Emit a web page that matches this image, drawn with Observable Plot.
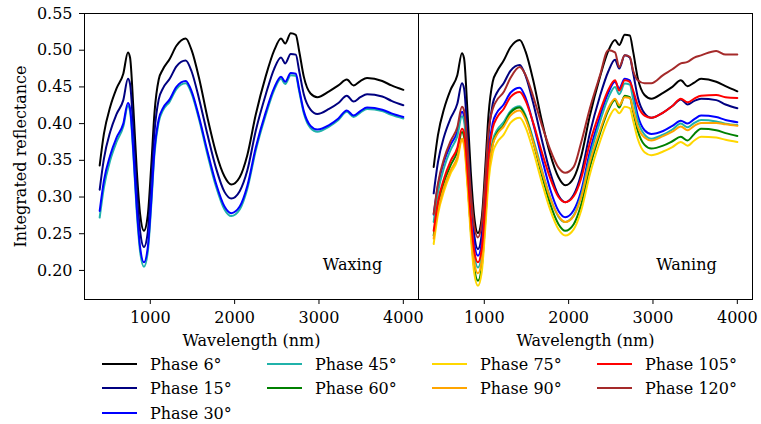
<!DOCTYPE html>
<html><head><meta charset="utf-8">
<script src="https://cdn.jsdelivr.net/npm/d3@7"></script>
<script src="https://cdn.jsdelivr.net/npm/@observablehq/plot@0.6"></script>
<style>
body{margin:0;background:#fff;}
#wrap{position:relative;width:761px;height:424px;font-family:"DejaVu Serif","Liberation Serif",serif;overflow:hidden;}
#left{position:absolute;left:0;top:0;}
#right{position:absolute;left:418px;top:0;}
.leg{position:absolute;font-size:16px;line-height:16px;white-space:nowrap;color:#000;}
.sw{position:absolute;height:2px;width:35px;}
</style></head><body>
<div id="wrap"><div id="left"></div><div id="right"></div><div id="legend"></div></div>
<script>
// Wavelength grid (nm)
const wavelengths = [400,450,525,600,680, 735,760,800,840,880, 925,970,1010,1050,1100, 1150,1230,1310,1420,1490, 1580,1680,1780,1880,1960, 2060,2150,2250,2370,2470, 2550,2600,2665,2725,2765, 2820,2900,2980,3120,3230, 3330,3410,3490,3570,3750, 3860,4000];

// Waxing panel
const waxing6  = [.343,.386,.423,.448,.468, .497,.490,.420,.336,.276, .254,.275,.340,.415,.460, .474,.488,.506,.516,.500, .461,.407,.360,.328,.317, .327,.357,.412,.465,.500, .516,.509,.523,.521,.499, .464,.441,.436,.444,.452, .460,.452,.458,.462,.458, .452,.446];
const waxing15 = [.310,.352,.389,.413,.432, .461,.454,.390,.310,.253, .232,.252,.316,.389,.433, .448,.461,.478,.486,.471, .433,.384,.339,.307,.298, .308,.336,.390,.440,.475, .490,.482,.495,.494,.472, .440,.419,.413,.420,.428, .438,.430,.436,.440,.437, .431,.425];
const waxing30 = [.281,.322,.357,.381,.400, .428,.421,.361,.285,.231, .211,.231,.292,.364,.406, .421,.433,.450,.458,.444, .408,.361,.318,.287,.278, .287,.315,.367,.416,.449, .464,.457,.469,.468,.447, .417,.397,.392,.398,.407, .418,.411,.417,.422,.419, .414,.409];
const waxing45 = [.272,.313,.350,.375,.396, .424,.417,.356,.279,.225, .205,.225,.286,.359,.402, .418,.430,.447,.455,.441, .405,.357,.314,.283,.274, .283,.311,.363,.412,.446, .461,.454,.466,.465,.444, .414,.394,.389,.396,.405, .416,.409,.415,.420,.417, .412,.407];

// Waning panel
const waning6   = [.341,.384,.421,.446,.466, .496,.489,.418,.334,.274, .251,.272,.337,.412,.457, .471,.486,.504,.514,.498, .459,.405,.359,.327,.316, .326,.356,.410,.463,.499, .514,.507,.521,.520,.498, .462,.439,.434,.442,.450, .459,.451,.456,.461,.457, .451,.444];
const waning15  = [.305,.347,.383,.407,.427, .455,.448,.385,.306,.249, .229,.249,.312,.385,.427, .442,.455,.472,.480,.465, .428,.379,.334,.302,.293, .303,.332,.386,.437,.471, .487,.475,.493,.490,.469, .436,.414,.408,.415,.424, .433,.426,.431,.434,.432, .426,.421];
const waning30  = [.276,.315,.349,.371,.389, .416,.410,.355,.287,.238, .220,.238,.296,.362,.401, .415,.426,.442,.449,.435, .400,.354,.311,.281,.2725, .282,.309,.361,.409,.442, .457,.448,.461,.459,.440, .411,.391,.386,.390,.397, .404,.400,.406,.411,.409, .405,.402];
const waning45  = [.266,.306,.341,.364,.383, .410,.404,.346,.274,.223, .204,.222,.276,.340,.377, .391,.402,.417,.4235,.411, .379,.338,.300,.273,.266, .275,.303,.354,.402,.435, .450,.440,.4545,.453,.433, .404,.385,.3795,.385,.392, .400,.395,.401,.405,.403, .400,.398];
const waning60  = [.2475,.287,.321,.343,.362, .3885,.382,.326,.255,.204, .186,.205,.264,.332,.372, .387,.398,.415,.422,.409, .375,.331,.291,.263,.254, .263,.290,.340,.386,.418, .432,.422,.438,.436,.416, .390,.371,.366,.370,.376, .382,.377,.386,.393,.391, .387,.383];
const waning75  = [.236,.276,.309,.332,.350, .377,.371,.316,.247,.197, .179,.198,.255,.321,.360, .374,.385,.401,.408,.395, .363,.321,.283,.256,.2475, .256,.282,.330,.375,.406, .420,.414,.423,.421,.404, .379,.361,.357,.362,.368, .375,.370,.377,.382,.381, .378,.375];
const waning90  = [.2434,.281,.314,.336,.354, .3795,.374,.322,.258,.212, .196,.214,.269,.334,.371, .385,.396,.411,.418,.406, .375,.336,.299,.274,.266, .274,.300,.347,.390,.421, .434,.425,.436,.435,.419, .396,.381,.377,.383,.389, .396,.391,.397,.401,.401, .399,.397];
const waning105 = [.254,.293,.326,.349,.367, .393,.388,.337,.273,.227, .211,.230,.288,.355,.394, .408,.420,.436,.443,.431, .401,.362,.326,.300,.293, .301,.326,.373,.416,.446, .459,.445,.459,.457,.445, .425,.411,.408,.415,.424, .434,.429,.434,.438,.439, .436,.435];
const waning120 = [.277,.318,.353,.376,.395, .423,.418,.368,.306,.261, .245,.264,.322,.389,.420, .432,.443,.462,.477,.466, .437,.399,.365,.340,.333, .341,.375,.420,.465,.500, .497,.477,.493,.491,.472, .459,.455,.455,.466,.474, .482,.484,.490,.493,.499, .494,.494];

const phases = ["Phase 6°","Phase 15°","Phase 30°","Phase 45°","Phase 60°","Phase 75°","Phase 90°","Phase 105°","Phase 120°"];
const colors = ["black","navy","blue","lightseagreen","green","gold","orange","red","brown"];
const xTicks = [1000,2000,3000,4000];
const yTicks = [0.20,0.25,0.30,0.35,0.40,0.45,0.50,0.55];

function toRows(list){
  return list.flatMap(([phase, vals]) => wavelengths.map((w,i)=>({wl:w, r:vals[i], phase})));
}
const leftRows = toRows([["Phase 6°",waxing6],["Phase 15°",waxing15],["Phase 45°",waxing45],["Phase 30°",waxing30]]);
const rightRows = toRows([["Phase 6°",waning6],["Phase 15°",waning15],["Phase 30°",waning30],["Phase 45°",waning45],["Phase 60°",waning60],["Phase 75°",waning75],["Phase 90°",waning90],["Phase 105°",waning105],["Phase 120°",waning120]]);

const font = '"DejaVu Serif", "Liberation Serif", serif';
function panel(rows, label, isLeft){
  const marks = [
    Plot.line(rows, {x:"wl", y:"r", z:"phase", stroke:"phase", strokeWidth:2, curve:"monotone-x"}),
    Plot.frame({stroke:"black"}),
    Plot.text([label], {frameAnchor:"bottom-right", dx:-66, dy:-35, textAnchor:"middle", lineAnchor:"middle", text:d=>d, fontSize:16, fill:"black"}),
    Plot.text(["Wavelength (nm)"], {frameAnchor:"bottom", dy:41, textAnchor:"middle", lineAnchor:"middle", text:d=>d, fontSize:16, fill:"black"})
  ];
  if (isLeft) marks.push(Plot.text(["Integrated reflectance"], {frameAnchor:"left", dx:-64, rotate:-90, textAnchor:"middle", lineAnchor:"middle", text:d=>d, fontSize:16, fill:"black"}));
  return Plot.plot({
    width: isLeft ? 420 : 343,
    height: 352,
    marginLeft: isLeft ? 84 : 0,
    marginRight: isLeft ? 2 : 9,
    marginTop: 13,
    marginBottom: 53,
    style: {fontFamily: font, fontSize: "16px", background: "transparent", color: "black", overflow: "visible"},
    x: {domain:[220,4180], ticks:xTicks, tickFormat:d3.format("d"), tickSize:5, tickPadding:7, label:null},
    y: isLeft ? {domain:[0.1604,0.55], ticks:yTicks, tickFormat:d3.format(".2f"), tickSize:5, tickPadding:7, label:null}
              : {domain:[0.1604,0.55], axis:null},
    color: {domain: phases, range: colors},
    marks
  });
}
document.getElementById("left").append(panel(leftRows, "Waxing", true));
document.getElementById("right").append(panel(rightRows, "Waning", false));

// Legend (4 columns, filled column by column like matplotlib)
const legend = document.getElementById("legend");
const perCol = [3,2,2,2];
let k = 0;
perCol.forEach((n, c) => {
  for (let r = 0; r < n; r++, k++) {
    const x0 = 102 + c*165, yc = 364 + r*24.3;
    const sw = document.createElement("div");
    sw.className = "sw";
    sw.style.left = x0 + "px"; sw.style.top = (yc-1) + "px"; sw.style.background = colors[k];
    legend.append(sw);
    const t = document.createElement("div");
    t.className = "leg";
    t.style.left = (x0+48) + "px"; t.style.top = (yc-7) + "px";
    t.textContent = phases[k];
    legend.append(t);
  }
});
</script>
</body></html>
